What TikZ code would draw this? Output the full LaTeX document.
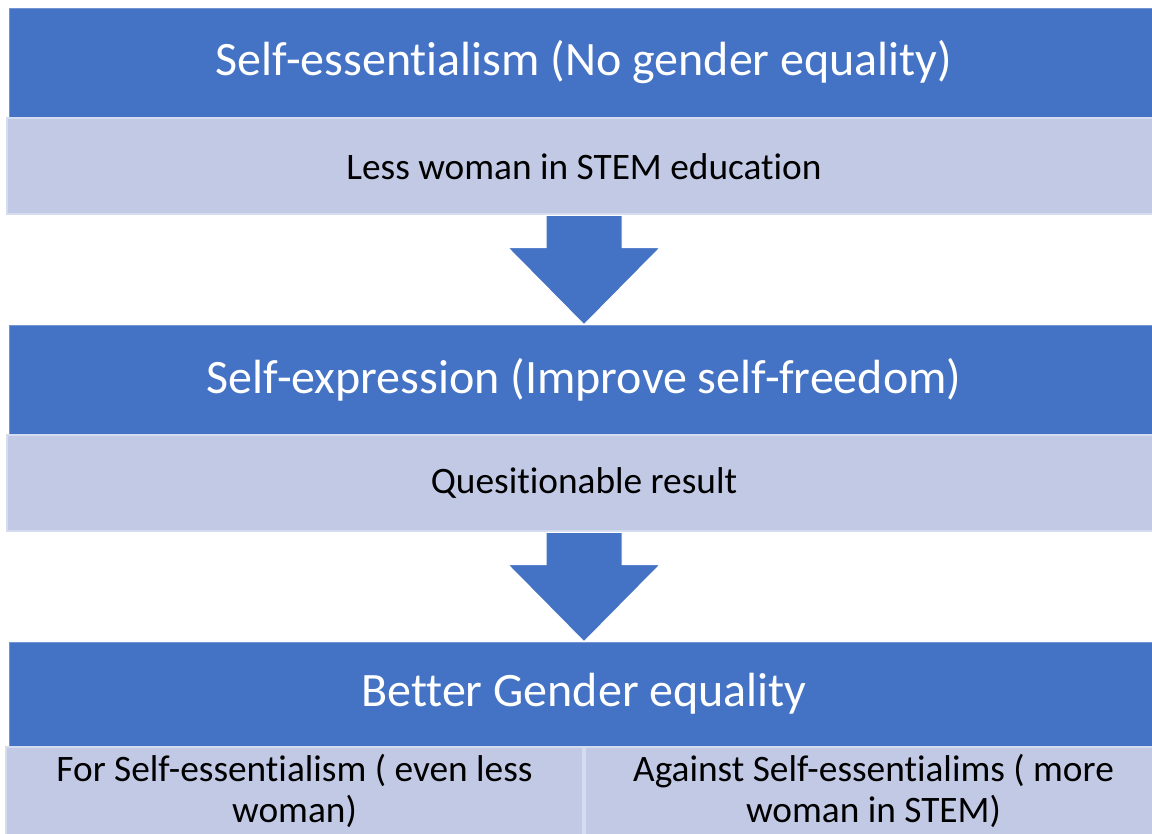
\documentclass[tikz,border=0pt]{standalone}
\usepackage{fontspec}
\setmainfont{Carlito}[Ligatures=NoCommon]
\usetikzlibrary{positioning,calc}

\definecolor{stageblue}{RGB}{68,114,196}
\definecolor{notelight}{RGB}{193,201,229}
\definecolor{noteedge}{RGB}{214,220,239}

\begin{document}
\begin{tikzpicture}[x=0.75pt, y=-0.75pt,
    stage/.style={fill=stageblue, draw=stageblue!75!white, line width=0.5pt, text=white,
        font=\fontsize{36}{43}\selectfont, minimum width=862.5pt, minimum height=81.75pt, inner sep=0pt},
    note/.style={fill=notelight, draw=noteedge, line width=1.5pt, text=black,
        font=\fontsize{28}{30.75}\selectfont, minimum width=865.5pt, minimum height=72pt,
        inner sep=0pt, align=center},
    flow/.style={fill=stageblue, draw=white, line width=0.75pt}]
        \useasboundingbox (0,0) rectangle (1152,834);
        \clip (0,0) rectangle (1152,834);

        % Stages and their notes
        \node[stage] (essential) at (584,62.5) {Self-essentialism (No gender equality)};
        \node[note] (fewer) [below=0pt of essential] {Less woman in STEM education};
        \node[stage] (expression) [below=82pt of fewer] {Self-expression (Improve self-freedom)};
        \node[note] (result) [below=0pt of expression] {Quesitionable result};
        \node[stage, minimum height=78pt] (equality) [below=82pt of result] {Better Gender equality};

        % Two outcomes under the last stage
        \node[note, minimum width=432.75pt, minimum height=66pt, anchor=north east] (forside)
            at (equality.south) {For Self-essentialism ( even less\\woman)};
        \node[note, minimum width=432.75pt, minimum height=66pt, anchor=north west] (against)
            at (equality.south) {Against Self-essentialims ( more\\woman in STEM)};

        % Block arrows between the stages
        \foreach \from/\to in {fewer/expression, result/equality}
            \path[flow] ($(\from.south)+(-38,0)$) -- ($(\to.north)+(-38,-77)$)
                -- ($(\to.north)+(-76,-77)$) -- (\to.north) -- ($(\to.north)+(76,-77)$)
                -- ($(\to.north)+(38,-77)$) -- ($(\from.south)+(38,0)$) -- cycle;

    \end{tikzpicture}
\end{document}
